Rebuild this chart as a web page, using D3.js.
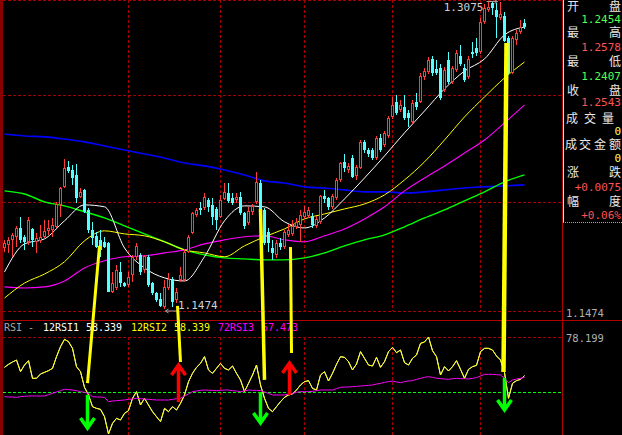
<!DOCTYPE html>
<html><head><meta charset="utf-8">
<script src="https://cdn.jsdelivr.net/npm/d3@7"></script>
<style>html,body{margin:0;padding:0;background:#000;overflow:hidden}svg{display:block}</style>
</head><body>
<script>
// ---------- DATA ----------
const opens = [1.1792,1.1808,1.1834,1.1850,1.1896,1.1850,1.1824,1.1891,1.1824,1.1829,1.1850,1.1881,1.1886,1.1902,1.2016,1.2110,1.2214,1.2198,1.2172,1.2058,1.2094,1.1990,1.1886,1.1855,1.1834,1.1824,1.1818,1.1563,1.1583,1.1667,1.1609,1.1599,1.1651,1.1746,1.1756,1.1677,1.1746,1.1609,1.1557,1.1526,1.1485,1.1583,1.1630,1.1521,1.1625,1.1625,1.1772,1.1870,1.1964,1.2000,1.2000,1.2042,1.2016,1.1995,1.1954,1.2047,1.2078,1.2052,1.2042,1.2058,1.1974,1.1922,1.1980,1.2032,1.2130,1.1990,1.1876,1.1792,1.1756,1.1818,1.1798,1.1860,1.1865,1.1902,1.1912,1.1954,1.1959,1.1959,1.1907,1.1928,1.2063,1.2052,1.2006,1.2052,1.2146,1.2240,1.2198,1.2260,1.2167,1.2208,1.2344,1.2302,1.2302,1.2260,1.2364,1.2328,1.2375,1.2474,1.2552,1.2510,1.2526,1.2494,1.2448,1.2552,1.2552,1.2682,1.2708,1.2776,1.2724,1.2729,1.2614,1.2771,1.2656,1.2719,1.2792,1.2729,1.2682,1.2812,1.2833,1.2812,1.2968,1.3031,1.3067,1.3031,1.2989,1.3000,1.2885,1.2703,1.2875,1.2916,1.2963];
const highs = [1.1834,1.1850,1.1870,1.1907,1.1954,1.1860,1.1954,1.1895,1.1870,1.1912,1.1938,1.1938,1.1948,1.2032,1.2108,1.2255,1.2245,1.2224,1.2229,1.2104,1.2098,1.2000,1.1928,1.1876,1.1886,1.1850,1.1824,1.1667,1.1704,1.1720,1.1614,1.1667,1.1756,1.1818,1.1766,1.1756,1.1756,1.1614,1.1563,1.1557,1.1625,1.1662,1.1641,1.1583,1.1693,1.1787,1.1860,1.1980,1.2000,1.2032,1.2078,1.2052,1.2052,1.2006,1.2068,1.2130,1.2130,1.2078,1.2078,1.2084,1.1980,1.2006,1.2021,1.2188,1.2146,1.2000,1.1896,1.1834,1.1834,1.1844,1.1886,1.1917,1.1938,1.1948,1.1990,1.2011,1.2006,1.1974,1.1959,1.2068,1.2094,1.2058,1.2073,1.2156,1.2240,1.2281,1.2234,1.2276,1.2224,1.2354,1.2354,1.2312,1.2312,1.2375,1.2385,1.2401,1.2479,1.2578,1.2588,1.2562,1.2588,1.2510,1.2562,1.2599,1.2703,1.2729,1.2786,1.2791,1.2771,1.2750,1.2734,1.2812,1.2739,1.2823,1.2849,1.2750,1.2792,1.2864,1.2885,1.2989,1.3062,1.3073,1.3070,1.3067,1.3075,1.3021,1.2896,1.2896,1.2927,1.2979,1.2984];
const lows = [1.1772,1.1766,1.1746,1.1798,1.1818,1.1782,1.1808,1.1798,1.1766,1.1818,1.1844,1.1860,1.1850,1.1896,1.1954,1.2104,1.2182,1.2120,1.2026,1.2052,1.1974,1.1870,1.1808,1.1792,1.1746,1.1792,1.1560,1.1557,1.1573,1.1589,1.1589,1.1589,1.1615,1.1730,1.1651,1.1662,1.1589,1.1547,1.1511,1.1485,1.1474,1.1573,1.1485,1.1505,1.1615,1.1620,1.1766,1.1865,1.1954,1.1964,1.1990,1.1980,1.1912,1.1886,1.1948,1.2042,1.2026,1.2016,1.2026,1.1964,1.1891,1.1912,1.1964,1.2021,1.1974,1.1808,1.1772,1.1730,1.1740,1.1782,1.1787,1.1850,1.1855,1.1891,1.1824,1.1943,1.1948,1.1896,1.1896,1.1917,1.2026,1.1990,1.1995,1.2042,1.2136,1.2188,1.2182,1.2156,1.2146,1.2203,1.2286,1.2266,1.2250,1.2250,1.2292,1.2318,1.2364,1.2463,1.2484,1.2500,1.2458,1.2422,1.2437,1.2510,1.2546,1.2667,1.2698,1.2687,1.2692,1.2562,1.2604,1.2646,1.2646,1.2708,1.2739,1.2656,1.2672,1.2781,1.2792,1.2802,1.2958,1.3021,1.3005,1.2885,1.2979,1.2864,1.2692,1.2698,1.2849,1.2906,1.2932];
const closes = [1.1818,1.1834,1.1860,1.1896,1.1834,1.1824,1.1938,1.1834,1.1844,1.1850,1.1881,1.1896,1.1912,1.2021,1.2104,1.2208,1.2193,1.2156,1.2052,1.2084,1.1980,1.1886,1.1844,1.1798,1.1782,1.1798,1.1563,1.1609,1.1677,1.1609,1.1594,1.1641,1.1746,1.1803,1.1667,1.1751,1.1599,1.1557,1.1521,1.1490,1.1589,1.1630,1.1511,1.1563,1.1651,1.1772,1.1850,1.1974,1.1990,1.1990,1.2058,1.2006,1.1954,1.1938,1.2042,1.2084,1.2037,1.2026,1.2058,1.1974,1.1907,1.1985,1.2011,1.2136,1.1985,1.1818,1.1818,1.1766,1.1818,1.1798,1.1876,1.1886,1.1907,1.1928,1.1964,1.1980,1.1990,1.1912,1.1943,1.2063,1.2047,1.2006,1.2063,1.2146,1.2234,1.2208,1.2219,1.2162,1.2214,1.2344,1.2302,1.2281,1.2260,1.2364,1.2302,1.2390,1.2468,1.2536,1.2494,1.2536,1.2468,1.2468,1.2546,1.2526,1.2687,1.2713,1.2771,1.2703,1.2703,1.2573,1.2719,1.2656,1.2729,1.2807,1.2750,1.2667,1.2776,1.2802,1.2807,1.2968,1.3041,1.3047,1.3041,1.2995,1.3010,1.2870,1.2703,1.2885,1.2911,1.2942,1.2942];

const maIdx = [0,5,10,15,20,25,30,35,40,45,50,55,60,65,70,75,80,85,90,95,100,105,110,115,120,125,130];
const maWhite   = [1.1667,1.1813,1.1839,1.1933,1.2016,1.2006,1.1792,1.1688,1.1636,1.1620,1.1746,1.1933,1.2011,1.2006,1.1928,1.1896,1.1948,1.2047,1.2156,1.2271,1.2391,1.2505,1.2620,1.2713,1.2776,1.2901,1.2942];
const maYellow  = [1.1531,1.1609,1.1656,1.1720,1.1829,1.1881,1.1865,1.1855,1.1824,1.1782,1.1766,1.1746,1.1803,1.1850,1.1891,1.1943,1.1969,1.1995,1.2021,1.2068,1.2146,1.2240,1.2354,1.2474,1.2578,1.2677,1.2760];
const maMagenta = [1.1589,1.1583,1.1589,1.1620,1.1688,1.1725,1.1746,1.1751,1.1766,1.1782,1.1813,1.1834,1.1850,1.1855,1.1834,1.1824,1.1855,1.1891,1.1943,1.2006,1.2089,1.2156,1.2219,1.2286,1.2354,1.2443,1.2536];
const maGreen   = [1.2089,1.2073,1.2032,1.2011,1.1980,1.1948,1.1907,1.1865,1.1824,1.1782,1.1756,1.1740,1.1735,1.1730,1.1730,1.1740,1.1766,1.1803,1.1834,1.1860,1.1902,1.1948,1.1990,1.2037,1.2084,1.2136,1.2172];
const maBlue    = [1.2385,1.2375,1.2370,1.2359,1.2344,1.2323,1.2302,1.2281,1.2260,1.2234,1.2219,1.2198,1.2172,1.2141,1.2130,1.2110,1.2104,1.2094,1.2084,1.2084,1.2078,1.2084,1.2094,1.2104,1.2110,1.2115,1.2120];

// RSI
const rsi12 = [62.65,64.18,65.38,66.40,60.42,63.84,66.06,57.01,57.01,59.23,60.08,60.94,62.13,68.11,73.24,77.00,75.80,72.39,62.99,60.42,52.39,48.46,42.48,41.62,41.11,37.35,28.47,33.93,36.50,35.64,39.06,40.43,46.75,50.17,43.33,46.75,43.33,39.92,37.35,34.79,41.62,39.92,42.48,40.77,44.19,48.46,55.30,59.57,62.65,64.70,68.11,61.28,59.57,62.13,64.70,62.13,61.28,63.33,59.57,56.15,50.17,54.44,58.71,63.84,53.59,46.75,41.62,39.92,42.48,45.04,47.27,48.46,48.97,51.02,53.59,55.30,55.81,51.88,51.02,58.71,60.42,55.64,59.57,64.18,68.11,67.77,65.55,61.28,64.35,70.68,67.26,63.84,63.33,67.77,62.65,65.55,70.68,72.90,70.16,71.53,65.04,63.84,67.26,68.97,74.95,75.63,78.199,71.19,68.11,58.71,62.99,60.77,62.99,66.06,61.62,57.01,61.62,62.99,63.67,70.68,72.39,72.39,71.53,68.46,66.40,59.91,46.75,54.44,55.81,56.49,58.339];
const rsi72 = [47.61,47.43,47.43,47.26,47.61,47.78,47.95,47.95,47.95,47.95,47.95,48.63,49.31,49.99,50.68,51.37,51.20,51.02,50.68,50.17,49.83,49.31,47.61,47.43,47.43,47.26,45.04,45.39,45.56,45.73,45.90,46.24,46.41,46.75,46.58,46.41,46.24,46.07,45.90,45.90,45.90,45.90,46.24,46.58,46.75,47.95,48.97,50.17,50.51,50.85,51.02,50.85,50.85,50.68,50.85,51.02,51.02,50.68,50.51,50.17,50.51,51.02,50.85,50.85,50.68,49.99,49.31,48.46,48.46,48.46,48.46,48.97,49.31,49.83,50.17,50.17,50.17,50.34,50.68,51.02,51.02,51.02,51.02,51.71,52.39,52.56,52.56,52.73,52.90,53.07,53.25,53.42,53.59,54.10,54.44,54.95,55.30,55.64,55.13,54.78,55.30,55.64,55.81,56.49,57.01,57.52,57.86,57.52,57.01,56.84,56.66,56.49,56.84,57.01,56.84,56.84,56.66,57.01,57.35,58.20,59.06,59.06,59.06,58.89,58.71,57.01,54.78,56.15,56.66,57.01,57.473];
const rsiMax = 78.199, rsiMid = 50;
const rsiHeader = [["RSI","#a8a8a8"],["-","#a8a8a8"],["12RSI1","#ffffff"],["58.339","#ffffff"],["12RSI2","#ffff00"],["58.339","#ffff00"],["72RSI3","#ff00ff"],["57.473","#ff00ff"]];

// grid (bar indices where the vertical separators fall)
const gridIdx = [31,54,75,97,119];
const priceLow = 1.1474, priceHigh = 1.3075, lowIdx = 40, highIdx = 124;

// info panel
const infoLabels = [["开","盘"],["最","高"],["最","低"],["收","盘"],["成","交","量"],["成","交","金","额"],["涨","跌"],["幅","度"]];
const infoValues = ["1.2454","1.2578","1.2407","1.2543","0","0","+0.0075","+0.06%"];
const infoColors = ["#54ff54","#ff5454","#54ff54","#ff5454","#ffff54","#ffff54","#ff5454","#ff5454"];

// hand-drawn annotations: [barIdx, price] -> [barIdx, rsi]
const yellowMarks = [
  {a:[23.75,1.1803], b:[20.75,54.6], w:3},
  {a:[43.25,1.1490], b:[44.0,65.4], w:3},
  {a:[64.0,1.1995],  b:[65.0,56.2], w:3.5},
  {a:[71.5,1.1797],  b:[71.75,70.0], w:3},
  {a:[125.5,1.2859], b:[124.75,60.25], w:4.5}
];
const upArrows = [{i:43.5, from:44.9, to:63.8},{i:71.25, from:48.5, to:64.9}];
const downArrows = [{i:20.75, from:48.5, to:31.5},{i:64, from:50, to:34.1},{i:125, from:57.2, to:40.8}];

// ---------- DRAW ----------
const W=622, H=435;
const svg = d3.select("body").append("svg").attr("width",W).attr("height",H).style("background","#000");
const x  = d3.scaleLinear().domain([0,130]).range([4.5,524.5]);
const yP = d3.scaleLinear().domain([priceLow,priceHigh]).range([309,1.5]);
const yR = d3.scaleLinear().domain([rsiMid,rsiMax]).range([392,337]);
const GRID = "#a80000";
const mono = "'DejaVu Sans Mono', monospace";

svg.append("rect").attr("x",0).attr("y",0).attr("width",W).attr("height",H).attr("fill","#000");
svg.append("defs").html(
  '<clipPath id="cm"><rect x="3" y="0" width="559" height="311"/></clipPath>'+
  '<clipPath id="cr"><rect x="3" y="321" width="559" height="114"/></clipPath>');

const grid = svg.append("g").attr("shape-rendering","crispEdges");
[0.5, 95.5, 202.5, 311.5].forEach(yy=>{
  grid.append("line").attr("x1",3).attr("x2",562).attr("y1",yy).attr("y2",yy)
    .attr("stroke",GRID).attr("stroke-dasharray","3,2");
});
gridIdx.forEach(i=>{
  const xx = Math.floor(x(i))+0.5;
  grid.append("line").attr("x1",xx).attr("x2",xx).attr("y1",0).attr("y2",311)
    .attr("stroke",GRID).attr("stroke-dasharray","3,2");
  grid.append("line").attr("x1",xx).attr("x2",xx).attr("y1",Math.round(yR(rsiMax))).attr("y2",435)
    .attr("stroke",GRID).attr("stroke-dasharray","3,2");
});
grid.append("line").attr("x1",3).attr("x2",562).attr("y1",Math.round(yR(rsiMax))+0.5).attr("y2",Math.round(yR(rsiMax))+0.5)
  .attr("stroke",GRID).attr("stroke-dasharray","3,2");
grid.append("line").attr("x1",3).attr("x2",562).attr("y1",Math.round(yR(rsiMid))+0.5).attr("y2",Math.round(yR(rsiMid))+0.5)
  .attr("stroke","#00ff00").attr("stroke-dasharray","3,2");
grid.append("line").attr("x1",0).attr("x2",W).attr("y1",320.5).attr("y2",320.5).attr("stroke","#b00000");
grid.append("line").attr("x1",562.5).attr("x2",562.5).attr("y1",0).attr("y2",H).attr("stroke","#b00000");
grid.append("rect").attr("x",0).attr("y",0).attr("width",3).attr("height",H).attr("fill","#8a0000");

// moving averages
const mainG = svg.append("g").attr("clip-path","url(#cm)");
const maLine = vals => d3.line().x((d,k)=>x(maIdx[k])).y(d=>yP(d)).curve(d3.curveMonotoneX)(vals);
[[maBlue,"#0000ff",1.6],[maGreen,"#00ff00",1.4],[maMagenta,"#ff00ff",1.1],[maYellow,"#ffff00",1],[maWhite,"#ffffff",1]]
  .forEach(([v,c,w])=>mainG.append("path").attr("d",maLine(v)).attr("fill","none").attr("stroke",c).attr("stroke-width",w));

// candles
const cg = svg.append("g").attr("shape-rendering","crispEdges");
opens.forEach((o,i)=>{
  const c = closes[i], cx = x(i);
  const up = c >= o;
  const yo = Math.round(yP(o)), yc = Math.round(yP(c));
  const yh = Math.round(yP(highs[i])), yl = Math.round(yP(lows[i]));
  let top = Math.min(yo,yc), bot = Math.max(yo,yc);
  if (bot-top < 1) bot = top+1;
  if (up) {
    const col = "#ff3c3c";
    if (yh < top) cg.append("line").attr("x1",cx).attr("x2",cx).attr("y1",yh).attr("y2",top).attr("stroke",col);
    if (yl > bot) cg.append("line").attr("x1",cx).attr("x2",cx).attr("y1",bot).attr("y2",yl).attr("stroke",col);
    cg.append("rect").attr("x",cx-1).attr("y",top+0.5).attr("width",2).attr("height",Math.max(bot-top-1,0.5))
      .attr("fill","#000").attr("stroke",col);
  } else {
    const col = "#54ffff";
    cg.append("line").attr("x1",cx).attr("x2",cx).attr("y1",yh).attr("y2",yl).attr("stroke",col);
    cg.append("rect").attr("x",cx-1.5).attr("y",top).attr("width",3).attr("height",bot-top).attr("fill",col);
  }
});

// high / low labels
const hx = x(highIdx), hy = yP(priceHigh);
svg.append("text").attr("x",hx-17).attr("y",hy+9.5).attr("text-anchor","end").attr("fill","#d0d0d0")
  .attr("font-family",mono).attr("font-size","11px").text(priceHigh.toFixed(4));
svg.append("path").attr("d",`M${hx-14},${hy}H${hx-3}M${hx-6},${hy-2}L${hx-3},${hy}L${hx-6},${hy+2}`)
  .attr("stroke","#a0a0a0").attr("fill","none");
const lx = x(lowIdx), ly = yP(priceLow);
svg.append("path").attr("d",`M${lx+1},${ly+2}H${lx+13}M${lx+4},${ly}L${lx+1},${ly+2}L${lx+4},${ly+4}`)
  .attr("stroke","#a0a0a0").attr("fill","none");
svg.append("text").attr("x",lx+13.5).attr("y",ly+0).attr("fill","#d0d0d0")
  .attr("font-family",mono).attr("font-size","11px").text(priceLow.toFixed(4));

// RSI lines
const rg = svg.append("g").attr("clip-path","url(#cr)");
const rLine = d3.line().x((d,i)=>x(i)).y(d=>yR(d));
rg.append("path").attr("d",rLine(rsi12)).attr("fill","none").attr("stroke","#ffffff").attr("stroke-width",1);
rg.append("path").attr("d",rLine(rsi12)).attr("fill","none").attr("stroke","#ffff00").attr("stroke-width",1);
rg.append("path").attr("d",rLine(rsi72)).attr("fill","none").attr("stroke","#ff00ff").attr("stroke-width",1);

// RSI header
const hxs = [4,28,43,86,131,174,218,262];
rsiHeader.forEach(([t,c],k)=>{
  svg.append("text").attr("x",hxs[k]).attr("y",331).attr("fill",c).attr("font-family",mono)
    .attr("font-size","10px").text(t);
});

// right axis labels
svg.append("text").attr("x",566).attr("y",317).attr("fill","#b0b0b0").attr("font-family",mono)
  .attr("font-size","10.5px").text(priceLow.toFixed(4));
svg.append("text").attr("x",566).attr("y",342).attr("fill","#b0b0b0").attr("font-family",mono)
  .attr("font-size","10.5px").text(rsiMax.toFixed(3));

// info box
svg.append("rect").attr("x",563).attr("y",0).attr("width",59).attr("height",223).attr("fill","#000");
svg.append("line").attr("x1",563.5).attr("x2",563.5).attr("y1",0).attr("y2",223).attr("stroke","#e8e8e8").attr("shape-rendering","crispEdges");
svg.append("line").attr("x1",563).attr("x2",622).attr("y1",222.5).attr("y2",222.5).attr("stroke","#a0a0a0")
  .attr("stroke-dasharray","1,1").attr("shape-rendering","crispEdges");
const labelRows = [6.5,33,62,91,118.5,145,172.5,202];
const valueRows = [19,46.5,75.5,102,131,158,187,215];
const charX = {2:[567,609],3:[566,584,602],4:[565,579,594,609]};
infoLabels.forEach((chars,r)=>{
  chars.forEach((ch,k)=>{
    svg.append("text").attr("x",charX[chars.length][k]).attr("y",labelRows[r]+4.3)
      .attr("fill","#e8e8e8").attr("font-family","'Noto Sans CJK SC', sans-serif").attr("font-size","12px").text(ch);
  });
  svg.append("text").attr("x",621).attr("y",valueRows[r]+4).attr("text-anchor","end")
    .attr("fill",infoColors[r]).attr("font-family",mono).attr("font-size","11px").text(infoValues[r]);
});

// annotations
const ag = svg.append("g");
yellowMarks.forEach(m=>{
  ag.append("line").attr("x1",x(m.a[0])).attr("y1",yP(m.a[1])).attr("x2",x(m.b[0])).attr("y2",yR(m.b[1]))
    .attr("stroke","#ffff00").attr("stroke-width",m.w);
});
function arrow(i,from,to,col){
  const ax = x(i), y0 = yR(from), y1 = yR(to), dir = y1 < y0 ? 1 : -1;
  ag.append("path").attr("d",`M${ax},${y0}L${ax},${y1}M${ax-7},${y1+dir*10}L${ax},${y1}L${ax+7},${y1+dir*10}`)
    .attr("stroke",col).attr("stroke-width",3.5).attr("fill","none").attr("stroke-linejoin","miter");
}
upArrows.forEach(a=>arrow(a.i,a.from,a.to,"#ff0000"));
downArrows.forEach(a=>arrow(a.i,a.from,a.to,"#00ff00"));
</script>
</body></html>
